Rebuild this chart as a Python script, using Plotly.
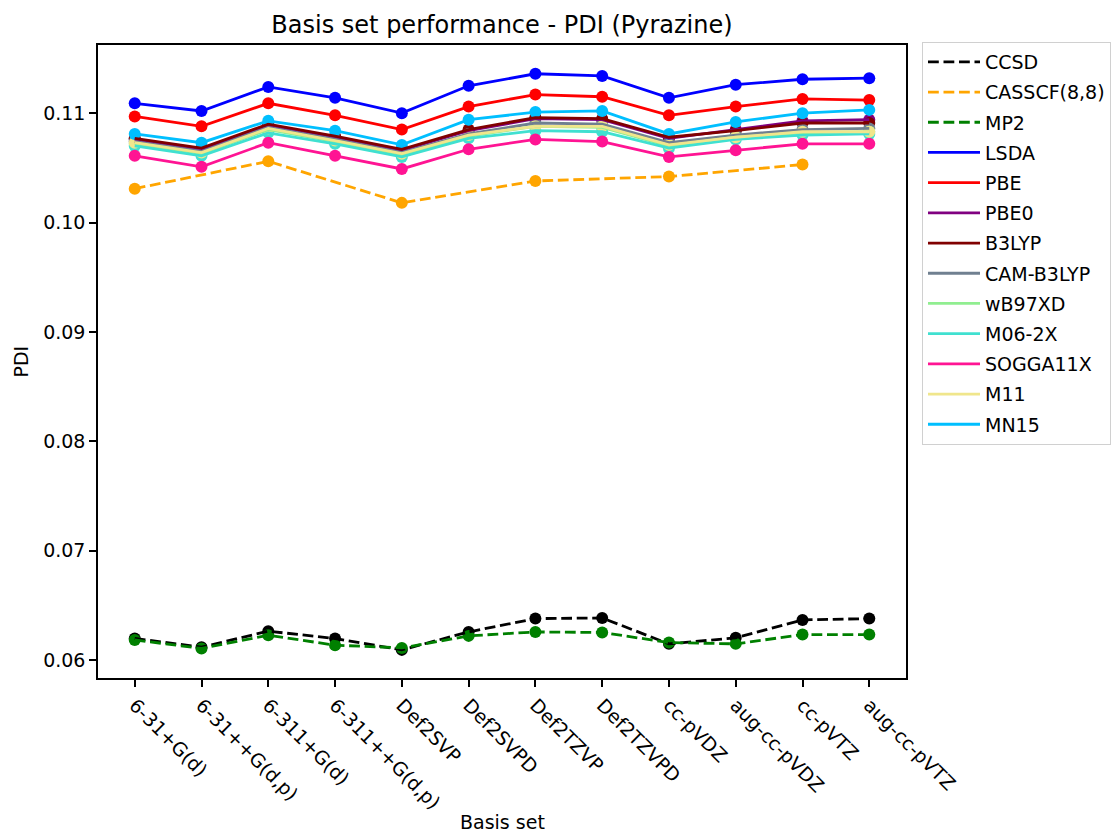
import plotly.graph_objects as go

basis_sets = ["6-31+G(d)", "6-31++G(d,p)", "6-311+G(d)", "6-311++G(d,p)", "Def2SVP", "Def2SVPD",
              "Def2TZVP", "Def2TZVPD", "cc-pVDZ", "aug-cc-pVDZ", "cc-pVTZ", "aug-cc-pVTZ"]

ccsd     = [0.06198, 0.06119, 0.06265, 0.06198, 0.06094, 0.06258, 0.06380, 0.06386, 0.06149, 0.06204, 0.06368, 0.06380]
casscf   = [0.1031, None, 0.1056, None, 0.1018, None, 0.1038, None, 0.1042, None, 0.1053, None]
mp2      = [0.06185, 0.06107, 0.06228, 0.06137, 0.06112, 0.06222, 0.06258, 0.06253, 0.06161, 0.06149, 0.06234, 0.06234]
lsda     = [0.1109, 0.1102, 0.1124, 0.1114, 0.1100, 0.1125, 0.1136, 0.1134, 0.1114, 0.1126, 0.1131, 0.1132]
pbe      = [0.1097, 0.1088, 0.1109, 0.1098, 0.1085, 0.1106, 0.1117, 0.1115, 0.1098, 0.1106, 0.1113, 0.1112]
pbe0     = [0.1076, 0.1067, 0.1089, 0.1078, 0.1066, 0.1084, 0.1095, 0.1094, 0.1077, 0.1085, 0.1093, 0.1094]
b3lyp    = [0.1077, 0.1068, 0.1090, 0.1079, 0.1067, 0.1085, 0.1096, 0.1095, 0.1078, 0.1084, 0.1091, 0.1091]
camb3lyp = [0.1074, 0.1065, 0.1087, 0.1076, 0.1064, 0.1081, 0.1091, 0.1090, 0.1073, 0.1080, 0.1085, 0.1086]
wb97xd   = [0.1072, 0.1063, 0.1085, 0.1074, 0.1062, 0.1079, 0.1088, 0.1087, 0.1070, 0.1078, 0.1082, 0.1083]
m062x    = [0.1070, 0.1061, 0.1082, 0.1072, 0.1060, 0.1077, 0.1084, 0.1083, 0.1068, 0.1076, 0.1080, 0.1081]
sogga11x = [0.1061, 0.1051, 0.1073, 0.1061, 0.1049, 0.1067, 0.1076, 0.1074, 0.1060, 0.1066, 0.1072, 0.1072]
m11      = [0.1073, 0.1064, 0.1086, 0.1075, 0.1063, 0.1080, 0.1088, 0.1088, 0.1071, 0.1078, 0.1083, 0.1083]
mn15     = [0.1081, 0.1073, 0.1093, 0.1084, 0.1071, 0.1094, 0.1101, 0.1102, 0.1081, 0.1092, 0.1100, 0.1103]

methods = ["CCSD", "CASSCF(8,8)", "MP2", "LSDA", "PBE", "PBE0", "B3LYP", "CAM-B3LYP",
           "wB97XD", "M06-2X", "SOGGA11X", "M11", "MN15"]
series = [ccsd, casscf, mp2, lsda, pbe, pbe0, b3lyp, camb3lyp, wb97xd, m062x, sogga11x, m11, mn15]
colors = ["#000000", "#FFA500", "#008000", "#0000FF", "#FF0000", "#800080", "#800000", "#708090",
          "#90EE90", "#40E0D0", "#FF1493", "#F0E68C", "#00BFFF"]
dashed = {"CCSD", "CASSCF(8,8)", "MP2"}

xs = list(range(len(basis_sets)))
fig = go.Figure()

# markers (drawn beneath lines, like matplotlib scatter zorder)
for name, vals, col in zip(methods, series, colors):
    fig.add_trace(go.Scatter(x=xs, y=vals, mode="markers", showlegend=False,
                             marker=dict(color=col, size=12, line=dict(width=0)),
                             hoverinfo="skip"))
# lines
for i, (name, vals, col) in enumerate(zip(methods, series, colors)):
    fig.add_trace(go.Scatter(x=xs, y=vals, mode="lines", name=name, connectgaps=True,
                             legendgroup=f"g{i}",
                             line=dict(color=col, width=2.8,
                                       dash="10.8px,4.7px" if name in dashed else "solid")))

font = "DejaVu Sans, sans-serif"
fig.update_layout(
    width=1113, height=836, autosize=False,
    margin=dict(l=98, r=207, t=45, b=158, autoexpand=False),
    paper_bgcolor="white", plot_bgcolor="white",
    font=dict(family=font, size=19, color="black"),
    title=dict(text="Basis set performance - PDI (Pyrazine)", x=502/1113, xanchor="center",
               y=1 - 25/836, yanchor="middle", font=dict(size=24, color="black")),
    showlegend=True,
    legend=dict(x=1.0198, y=(678-42)/633, xanchor="left", yanchor="top",
                bordercolor="#d0d0d0", borderwidth=1, bgcolor="white",
                itemwidth=52, tracegroupgap=2.5, traceorder="grouped",
                font=dict(size=19, color="black")),
    xaxis=dict(range=[-0.55, 11.55], tickmode="array", tickvals=xs, ticktext=basis_sets,
               tickangle=45, showgrid=False, zeroline=False, showline=True, linecolor="black",
               linewidth=1.5, mirror=True, ticks="outside", ticklen=7, tickwidth=1.5,
               tickcolor="black", tickfont=dict(size=19)),
    yaxis=dict(range=[0.05837, 0.11623], tickmode="linear", tick0=0.06, dtick=0.01,
               tickformat=".2f", showgrid=False, zeroline=False, showline=True, linecolor="black",
               linewidth=1.5, mirror=True, ticks="outside", ticklen=7, tickwidth=1.5,
               tickcolor="black", tickfont=dict(size=19)),
    annotations=[
        dict(text="Basis set", xref="paper", yref="paper", x=0.5, y=-(822-678)/633,
             xanchor="center", yanchor="middle", showarrow=False, font=dict(size=19)),
        dict(text="PDI", xref="paper", yref="paper", x=-(98-20)/808, y=0.5, textangle=-90,
             xanchor="center", yanchor="middle", showarrow=False, font=dict(size=19)),
    ],
)

fig.write_html("out.html")
